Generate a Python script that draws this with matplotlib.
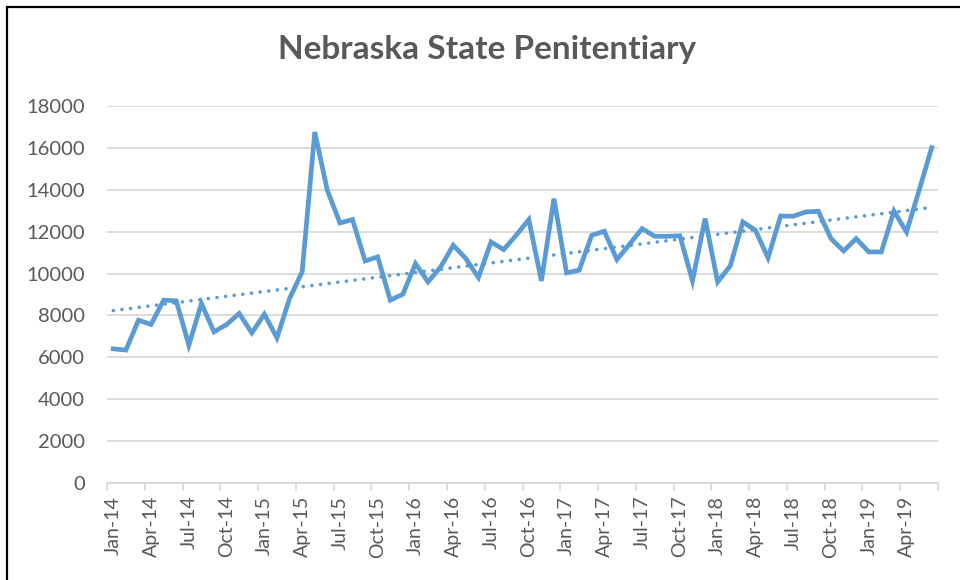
import numpy as np
import matplotlib
matplotlib.use("Agg")
import matplotlib.pyplot as plt
from matplotlib.patches import Rectangle

title = "Nebraska State Penitentiary"
months = ["Jan", "Feb", "Mar", "Apr", "May", "Jun", "Jul", "Aug", "Sep", "Oct", "Nov", "Dec"]
years = [14, 15, 16, 17, 18, 19]
categories = [f"{m}-{y}" for y in years for m in months][:66]

values = [6410, 6350, 7775, 7570, 8730, 8700, 6585, 8570, 7220, 7570, 8095, 7170,
          8060, 6935, 8810, 10080, 16745, 13965, 12410, 12570, 10600, 10790, 8730, 9015,
          10475, 9600, 10315, 11350, 10710, 9810, 11505, 11140, 11825, 12570, 9650, 13570,
          10030, 10160, 11825, 12015, 10665, 11395, 12140, 11775, 11775, 11800, 9650, 12620,
          9600, 10365, 12460, 12060, 10745, 12745, 12730, 12935, 12965, 11665, 11075, 11665,
          11030, 11030, 12980, 11980, 13965, 16000]

yticks = list(range(0, 18001, 2000))

line_color = "#5B9BD5"
text_color = "#595959"
grid_color = "#D9D9D9"

plt.rcParams['font.family'] = ['Lato', 'DejaVu Sans']

fig = plt.figure(figsize=(9.6, 5.8), dpi=100)
ax = fig.add_axes([107/960, 1-483.3/580, (938-107)/960, (483.3-105.7)/580])

x = np.arange(len(values))
ax.plot(x, values, color=line_color, lw=3.4, solid_joinstyle='miter', zorder=3)

# linear trendline
coef = np.polyfit(x, values, 1)
trend = np.polyval(coef, x)
ax.plot(x, trend, color=line_color, lw=2.6, linestyle=(0, (0.01, 2.4)),
        dash_capstyle='round', zorder=2)

ax.set_xlim(-0.5, len(values) - 0.5)
ax.set_ylim(0, 18000)
ax.set_yticks(yticks)
ax.set_yticklabels([str(v) for v in yticks])
ax.yaxis.grid(True, color=grid_color, lw=1.3)
ax.set_axisbelow(True)
ax.tick_params(axis='y', length=0, pad=16, labelsize=14.5, labelcolor=text_color)

ax.set_xticks(x[::3])
ax.set_xticklabels(categories[::3], rotation=90)
ax.set_xticks(np.arange(-0.5, len(values), 3), minor=True)
ax.tick_params(axis='x', which='major', length=0, pad=9, labelsize=14, labelcolor=text_color)
ax.tick_params(axis='x', which='minor', length=6, width=1.2, color=grid_color, direction='out')

for s in ['top', 'right', 'left']:
    ax.spines[s].set_visible(False)
ax.spines['bottom'].set_color(grid_color)
ax.spines['bottom'].set_linewidth(1.3)

fig.text(487/960, 1-50/580, title, ha='center', va='center', fontsize=24,
         fontweight='bold', color=text_color)

fig.patches.append(Rectangle((7/960, -0.1), 1.2, 1.1 - 7/580, transform=fig.transFigure,
                             fill=False, ec='black', lw=1.6, zorder=10))

fig.savefig("out.png", dpi=100, facecolor='white')
